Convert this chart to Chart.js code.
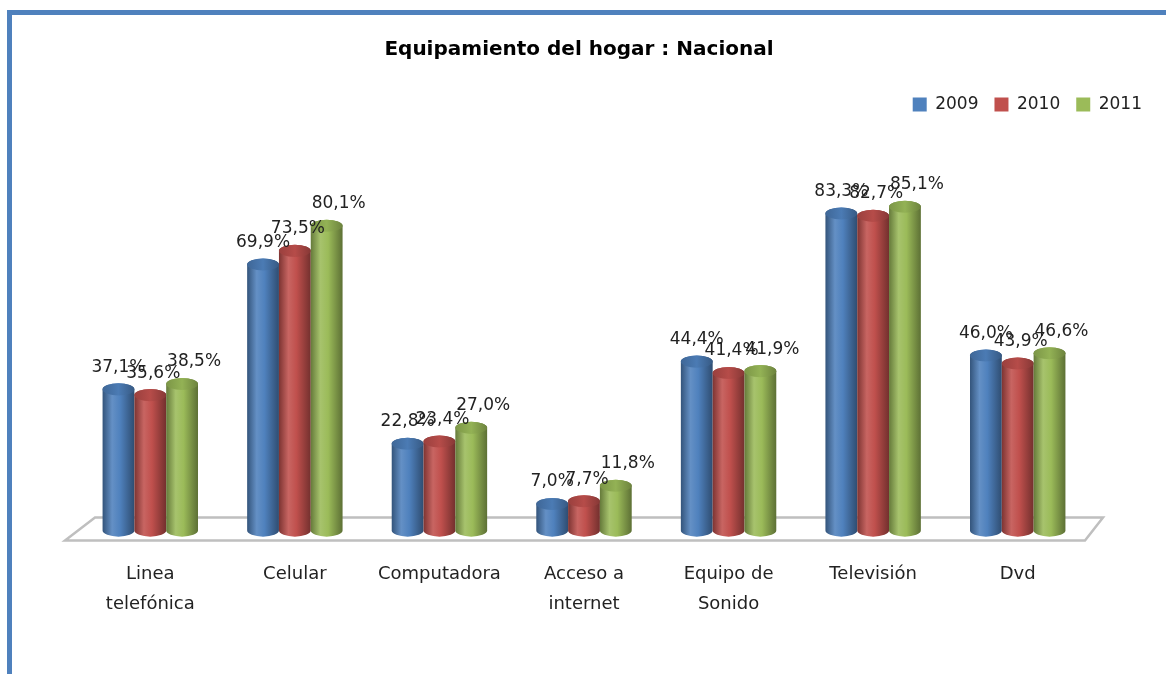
<!DOCTYPE html>
<html>
<head>
<meta charset="utf-8">
<script src="https://cdn.jsdelivr.net/npm/chart.js@4.4.1/dist/chart.umd.min.js"></script>
<style>
  html, body { margin: 0; padding: 0; background: #fff; overflow: hidden; }
  #frame { position: absolute; left: 7px; top: 10px; width: 1200px; height: 700px;
           border-left: 5px solid #4f81bd; border-top: 5px solid #4f81bd; }
  #wrap { position: absolute; left: 0; top: 0; width: 1166px; height: 674px; }
</style>
</head>
<body>
<div id="frame"></div>
<div id="wrap"><canvas id="myChart" width="1166" height="674"></canvas></div>
<script>
const categories = [['Linea', 'telefónica'], 'Celular', 'Computadora', ['Acceso a', 'internet'], ['Equipo de', 'Sonido'], 'Televisión', 'Dvd'];
const years = ['2009', '2010', '2011'];
const values2009 = [37.1, 69.9, 22.8, 7.0, 44.4, 83.3, 46.0];
const values2010 = [35.6, 73.5, 23.4, 7.7, 41.4, 82.7, 43.9];
const values2011 = [38.5, 80.1, 27.0, 11.8, 41.9, 85.1, 46.6];
const colors = ['#4f81bd', '#c0504d', '#9bbb59'];

const font = 'DejaVu Sans';

function shade(hex, f) {
    let n = parseInt(hex.slice(1), 16);
    let c = [(n >> 16) & 255, (n >> 8) & 255, n & 255];
    c = c.map(v => f < 0 ? Math.round(v * (1 + f)) : Math.round(v + (255 - v) * f));
    return 'rgb(' + c.join(',') + ')';
}

function drawCylinder(ctx, x, top, base, w, color) {
    let rx = w / 2, ry = Math.max(3, w * 0.19);
    let l = x - rx, r = x + rx;
    let g = ctx.createLinearGradient(l, 0, r, 0);
    g.addColorStop(0, shade(color, -0.35));
    g.addColorStop(0.3, shade(color, 0.12));
    g.addColorStop(0.55, color);
    g.addColorStop(1, shade(color, -0.4));
    ctx.beginPath();
    ctx.moveTo(l, top);
    ctx.lineTo(l, base);
    ctx.ellipse(x, base, rx, ry, 0, Math.PI, 0, true);
    ctx.lineTo(r, top);
    ctx.ellipse(x, top, rx, ry, 0, 0, Math.PI, true);
    ctx.closePath();
    ctx.fillStyle = g;
    ctx.fill();
    // top cap
    let g2 = ctx.createLinearGradient(l, 0, r, 0);
    g2.addColorStop(0, shade(color, -0.2));
    g2.addColorStop(0.5, shade(color, -0.05));
    g2.addColorStop(1, shade(color, -0.3));
    ctx.beginPath();
    ctx.ellipse(x, top, rx, ry, 0, 0, Math.PI * 2);
    ctx.fillStyle = g2;
    ctx.fill();
}

const labelShift = [0, 3, 12];

const cylinders = {
    id: 'cylinders',
    afterInit(chart) {
        let legend = chart.legend;
        let fit = legend.fit;
        legend.fit = function () { fit.call(this); this.height += 27; };
    },
    beforeDatasetsDraw(chart) {
        let ctx = chart.ctx;
        let {left, right, bottom} = chart.chartArea;
        ctx.save();
        ctx.beginPath();
        ctx.moveTo(left - 13, bottom + 10);
        ctx.lineTo(right - 5, bottom + 10);
        ctx.lineTo(right + 13, bottom - 13);
        ctx.lineTo(left + 17, bottom - 13);
        ctx.closePath();
        ctx.fillStyle = '#fff';
        ctx.fill();
        ctx.strokeStyle = '#bfbfbf';
        ctx.lineWidth = 2.5;
        ctx.stroke();
        ctx.restore();
    },
    beforeDatasetDraw() {
        return false;
    },
    afterDatasetsDraw(chart) {
        let ctx = chart.ctx;
        ctx.save();
        let n = chart.data.labels.length;
        for (let i = 0; i < n; i++) {
            chart.data.datasets.forEach((ds, d) => {
                let bar = chart.getDatasetMeta(d).data[i];
                drawCylinder(ctx, bar.x, bar.y, bar.base, bar.width, colors[d]);
            });
        }
        ctx.font = '17px "' + font + '"';
        ctx.fillStyle = '#222';
        ctx.textAlign = 'center';
        ctx.textBaseline = 'middle';
        for (let i = 0; i < n; i++) {
            chart.data.datasets.forEach((ds, d) => {
                let bar = chart.getDatasetMeta(d).data[i];
                let txt = ds.data[i].toFixed(1).replace('.', ',') + '%';
                ctx.fillText(txt, bar.x + labelShift[d], bar.y - 22);
            });
        }
        ctx.restore();
    }
};

const series = [values2009, values2010, values2011];

let ctx = document.getElementById('myChart').getContext('2d');
new Chart(ctx, {
    type: 'bar',
    data: {
        labels: categories,
        datasets: years.map((y, k) => ({
            label: y,
            data: series[k],
            backgroundColor: colors[k],
            borderWidth: 0,
            categoryPercentage: 0.66,
            barPercentage: 1.0
        }))
    },
    options: {
        responsive: false,
        animation: false,
        layout: { padding: { left: 0, right: 8, top: 0, bottom: 34 } },
        plugins: {
            title: {
                display: true,
                text: 'Equipamiento del hogar : Nacional',
                color: '#000',
                font: { family: font, size: 20, weight: 'bold' },
                padding: { top: 38, bottom: 18 }
            },
            legend: {
                position: 'top',
                align: 'end',
                labels: {
                    boxWidth: 14,
                    boxHeight: 14,
                    padding: 16,
                    color: '#222',
                    font: { family: font, size: 17 }
                }
            },
            tooltip: { enabled: false }
        },
        scales: {
            x: {
                grid: { display: false },
                border: { display: false },
                ticks: {
                    color: '#222',
                    font: { family: font, size: 18, lineHeight: 1.65 },
                    padding: 21,
                    maxRotation: 0,
                    autoSkip: false
                }
            },
            y: {
                min: 0,
                max: 100,
                ticks: { display: false },
                grid: { display: false },
                border: { display: false },
                afterFit(s) { s.width = 78; }
            },
            yR: {
                position: 'right',
                min: 0,
                max: 100,
                ticks: { display: false },
                grid: { display: false },
                border: { display: false },
                afterFit(s) { s.width = 1166 - 8 - 1090; }
            }
        }
    },
    plugins: [cylinders]
});
</script>
</body>
</html>
